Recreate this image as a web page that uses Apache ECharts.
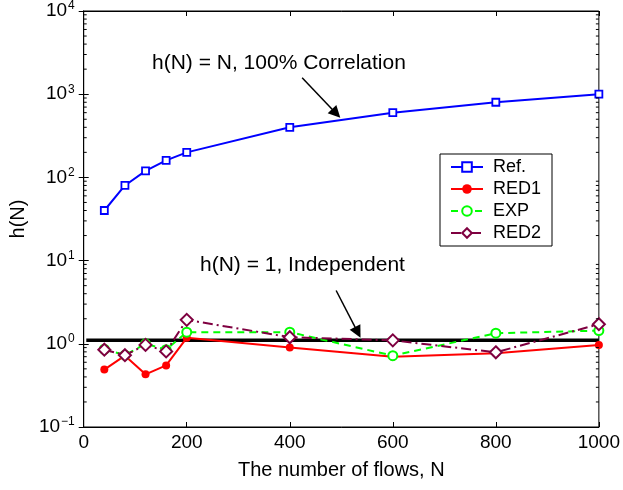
<!DOCTYPE html>
<html>
<head>
<meta charset="utf-8">
<script src="https://cdn.jsdelivr.net/npm/echarts@6/dist/echarts.min.js"></script>
<style>
  html, body { margin: 0; padding: 0; background: #fff; }
  #chart { width: 623px; height: 490px; }
</style>
</head>
<body>
<div id="chart"></div>
<script>
// data
var flows = [40, 80, 120, 160, 200, 400, 600, 800, 1000];
var refVals = [40, 80, 120, 160, 200, 400, 600, 800, 1000];
var red1Vals = [0.49, 0.72, 0.43, 0.55, 1.18, 0.90, 0.70, 0.77, 0.97];
var expVals = [0.86, 0.73, 1.00, 0.85, 1.38, 1.38, 0.72, 1.34, 1.44];
var red2Vals = [0.85, 0.73, 0.97, 0.81, 1.94, 1.20, 1.10, 0.79, 1.72];
var indepX = [5, 1000];
var indepLevel = 1.1;
var decades = [-1, 0, 1, 2, 3];

var FONT = '"Liberation Sans", Arial, Helvetica, sans-serif';

function pairs(xs, ys) {
    return xs.map(function (x, i) { return [x, ys[i]]; });
}

// minor ticks of the log axis (2..9 in each decade)
var minorTicks = [];
decades.forEach(function (d) {
    for (var m = 2; m <= 9; m++) {
        minorTicks.push([0, m * Math.pow(10, d)]);
    }
});

var chart = echarts.init(document.getElementById('chart'), null, { renderer: 'canvas' });

var yLabel = {
    margin: 9,
    color: '#000',
    fontFamily: FONT,
    formatter: function (v) {
        var e = Math.round(Math.log10(v));
        return '{b|10}{e|' + (e < 0 ? '\u2212' + (-e) : e) + '}';
    },
    rich: {
        b: { fontSize: 19, fontFamily: FONT, color: '#000', lineHeight: 22 },
        e: { fontSize: 12, fontFamily: FONT, color: '#000', verticalAlign: 'top', lineHeight: 12, padding: [0, 0, 12, 1] }
    }
};

chart.setOption({
    animation: false,
    textStyle: { fontFamily: FONT },
    grid: { left: 74, right: 21, top: 11, bottom: 63, show: true, borderColor: '#000', borderWidth: 1 },
    legend: {
        data: ['Ref.', 'RED1', 'EXP', 'RED2'],
        orient: 'vertical',
        left: 440,
        top: 154,
        padding: [4, 11, 4, 10],
        itemGap: 4,
        itemWidth: 32,
        itemHeight: 12,
        selectedMode: false,
        backgroundColor: '#fff',
        borderColor: '#000',
        borderWidth: 1,
        textStyle: { fontSize: 18, color: '#000', fontFamily: FONT, lineHeight: 18, padding: [0, 0, 0, 5] }
    },
    xAxis: [{
        type: 'value',
        min: 0,
        max: 1000,
        interval: 200,
        name: 'The number of flows, N',
        nameLocation: 'middle',
        nameGap: 33,
        nameTextStyle: { fontSize: 20, color: '#000', fontFamily: FONT },
        axisLine: { lineStyle: { color: '#000', width: 1 } },
        axisTick: { inside: true, length: 5, lineStyle: { color: '#000' } },
        axisLabel: {
            margin: 6, fontSize: 19, color: '#000', fontFamily: FONT,
            formatter: function (v) { return String(v); }
        },
        splitLine: { show: false }
    }, {
        type: 'value',
        position: 'top',
        min: 0,
        max: 1000,
        interval: 200,
        axisLine: { lineStyle: { color: '#000', width: 1 } },
        axisTick: { inside: true, length: 5, lineStyle: { color: '#000' } },
        axisLabel: { show: false },
        splitLine: { show: false }
    }],
    yAxis: [{
        type: 'log',
        logBase: 10,
        min: 0.1,
        max: 10000,
        name: 'h(N)',
        nameLocation: 'middle',
        nameGap: 36,
        nameTextStyle: { fontSize: 20, color: '#000', fontFamily: FONT },
        axisLine: { lineStyle: { color: '#000', width: 1 } },
        axisTick: { inside: true, length: 5, lineStyle: { color: '#000' } },
        axisLabel: yLabel,
        splitLine: { show: false }
    }, {
        type: 'log',
        logBase: 10,
        min: 0.1,
        max: 10000,
        position: 'right',
        axisLine: { lineStyle: { color: '#000', width: 1 } },
        axisTick: { inside: true, length: 5, lineStyle: { color: '#000' } },
        axisLabel: { show: false },
        splitLine: { show: false }
    }],
    graphic: [{
        type: 'text',
        x: 152,
        y: 63,
        style: { text: 'h(N) = N, 100% Correlation', font: '21px ' + FONT, fill: '#000', verticalAlign: 'middle' }
    }, {
        type: 'text',
        x: 200,
        y: 265,
        style: { text: 'h(N) = 1, Independent', font: '21px ' + FONT, fill: '#000', verticalAlign: 'middle' }
    }],
    series: [{
        name: 'minor',
        type: 'custom',
        silent: true,
        clip: false,
        z: 5,
        data: minorTicks,
        renderItem: function (params, api) {
            var v = api.value(1);
            var l = api.coord([0, v]);
            var r = api.coord([1000, v]);
            return {
                type: 'group',
                children: [
                    { type: 'line', shape: { x1: l[0], y1: l[1], x2: l[0] + 3, y2: l[1] }, style: { stroke: '#000', lineWidth: 1 } },
                    { type: 'line', shape: { x1: r[0] - 3, y1: r[1], x2: r[0], y2: r[1] }, style: { stroke: '#000', lineWidth: 1 } }
                ]
            };
        }
    }, {
        name: 'indep',
        type: 'line',
        z: 1,
        data: pairs(indepX, [indepLevel, indepLevel]),
        symbol: 'none',
        lineStyle: { color: '#000', width: 3.5 },
        markLine: {
            silent: true,
            symbol: ['none', 'triangle'],
            symbolSize: 12,
            label: { show: false },
            lineStyle: { color: '#000', width: 1.5, type: 'solid' },
            data: [
                [{ coord: [424, 1574] }, { coord: [490, 586] }],
                [{ coord: [490, 4.37] }, { coord: [532, 1.37] }]
            ]
        }
    }, {
        name: 'Ref.',
        type: 'line',
        z: 3,
        data: pairs(flows, refVals),
        symbol: 'rect',
        symbolSize: 7,
        lineStyle: { color: '#0000ff', width: 2 },
        itemStyle: { color: '#fff', borderColor: '#0000ff', borderWidth: 1.8 }
    }, {
        name: 'RED1',
        type: 'line',
        z: 3,
        data: pairs(flows, red1Vals),
        symbol: 'circle',
        symbolSize: 8,
        lineStyle: { color: '#ff0000', width: 2 },
        itemStyle: { color: '#ff0000', borderColor: '#ff0000', borderWidth: 0 }
    }, {
        name: 'EXP',
        type: 'line',
        z: 3,
        data: pairs(flows, expVals),
        symbol: 'circle',
        symbolSize: 9,
        lineStyle: { color: '#00ff00', width: 2, type: [7, 5] },
        itemStyle: { color: '#fff', borderColor: '#00ff00', borderWidth: 2 }
    }, {
        name: 'RED2',
        type: 'line',
        z: 3,
        data: pairs(flows, red2Vals),
        symbol: 'diamond',
        symbolSize: 12,
        lineStyle: { color: '#7f0040', width: 2, type: [10, 4, 2, 4] },
        itemStyle: { color: '#fff', borderColor: '#7f0040', borderWidth: 2 }
    }]
});
</script>
</body>
</html>
